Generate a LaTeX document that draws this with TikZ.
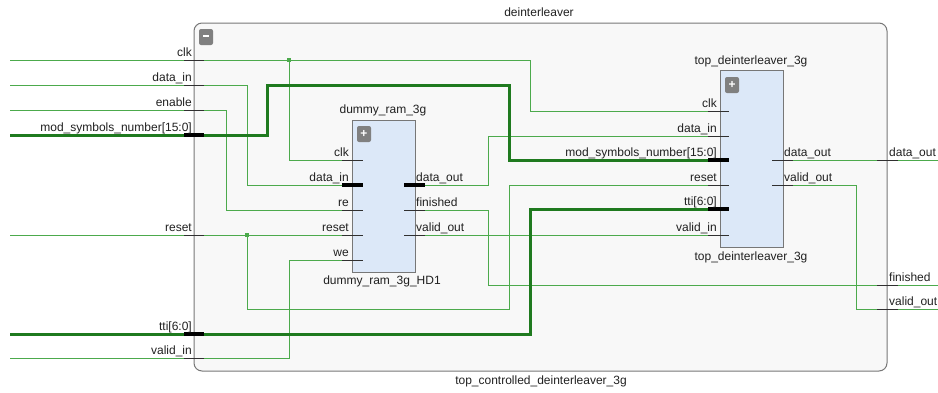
\documentclass[tikz,border=0pt]{standalone}
\usepackage{fontspec}
\setmainfont{Liberation Sans}
\definecolor{wgreen}{HTML}{4CAA4C}
\definecolor{bgreen}{HTML}{1F7A1F}
\definecolor{pinc}{HTML}{303030}
\definecolor{boxc}{HTML}{777777}
\definecolor{boxfill}{HTML}{F8F8F8}
\definecolor{blockblue}{HTML}{DCE8F8}
\definecolor{btngray}{HTML}{808080}
\definecolor{txt}{HTML}{202020}
\begin{document}
\begin{tikzpicture}[x=1pt,y=-1pt,
  wire/.style={draw=wgreen,line width=1pt},
  bus/.style={draw=bgreen,line width=3pt},
  pinstub/.style={draw=pinc,line width=1pt},
  buspin/.style={draw=black,line width=3.5pt},
  lbl/.style={font=\fontsize{12}{14}\selectfont,inner sep=0pt,text=txt},
  lblL/.style={lbl,anchor=base east},
  lblR/.style={lbl,anchor=base west},
  lblC/.style={lbl,anchor=base},
  outerbox/.style={draw=boxc,fill=boxfill,line width=1pt,rounded corners=8pt,minimum width=693pt,minimum height=348pt,inner sep=0pt},
  blk/.style={draw=boxc,fill=blockblue,line width=1pt,minimum width=63pt,inner sep=0pt},
  btn/.style={fill=btngray,rounded corners=2pt,minimum width=14pt,minimum height=16pt,inner sep=0pt,text=white,font=\bfseries\fontsize{12}{12}\selectfont},
  jdot/.style={fill=wgreen,minimum size=4pt,inner sep=0pt}
]
\useasboundingbox (0,0) rectangle (938,392);

% outer hierarchical box
\node[outerbox] (outer) at (540.5,197) {};
\node[btn] (minus) at (206,37) {\rule[0.3ex]{6pt}{1.6pt}};
\node[lblC] (tOuter) at (539,16) {deinterleaver};
\node[lblC] (bOuter) at (541,384) {top\_controlled\_deinterleaver\_3g};

% sub blocks
\node[blk,minimum height=152pt] (ram) at (383.5,196) {};
\node[btn] (ramplus) at (364,134) {+};
\node[lblC] (ramT) at (383,113) {dummy\_ram\_3g};
\node[lblC] (ramB) at (382,284) {dummy\_ram\_3g\_HD1};

\node[blk,minimum height=177pt] (td) at (751.5,158.5) {};
\node[btn] (tdplus) at (732,85) {+};
\node[lblC] (tdT) at (751,64) {top\_deinterleaver\_3g};
\node[lblC] (tdB) at (751,260) {top\_deinterleaver\_3g};

% pin coordinates (outer end of each stub)
\coordinate (ram-clk) at (342,160);
\coordinate (ram-din) at (342,185);
\coordinate (ram-re)  at (342,210);
\coordinate (ram-rst) at (342,235);
\coordinate (ram-we)  at (342,260);
\coordinate (ram-dout) at (425,185);
\coordinate (ram-fin)  at (425,210);
\coordinate (ram-vout) at (425,235);
\coordinate (td-clk) at (708,111);
\coordinate (td-din) at (708,136);
\coordinate (td-mod) at (708,160);
\coordinate (td-rst) at (708,185);
\coordinate (td-tti) at (708,209);
\coordinate (td-vin) at (708,235);
\coordinate (td-dout) at (793,160);
\coordinate (td-vout) at (793,185);
\coordinate (out-dout) at (877,160);
\coordinate (out-fin)  at (877,285);
\coordinate (out-vout) at (877,309);
\coordinate (o-dout) at (898,160);
\coordinate (o-fin)  at (898,285);
\coordinate (o-vout) at (898,309);
% free ends
\coordinate (x-clk) at (10,60);
\coordinate (x-din) at (10,85);
\coordinate (x-en)  at (10,110);
\coordinate (x-mod) at (10,135);
\coordinate (x-rst) at (10,235);
\coordinate (x-tti) at (10,334);
\coordinate (x-vin) at (10,358);
\coordinate (e-dout) at (938,160);
\coordinate (e-fin)  at (938,285);
\coordinate (e-vout) at (938,309);

% wires
\draw[wire] (x-clk) -- (530,60) |- (td-clk);
\draw[wire] (289,60) |- (ram-clk);
\draw[wire] (x-din) -- (247,85) |- (ram-din);
\draw[wire] (x-en) -- (226,110) |- (ram-re);
\draw[wire] (x-rst) -- (ram-rst);
\draw[wire] (247,235) -- (247,309) -- (509,309) |- (td-rst);
\draw[wire] (x-vin) -- (289,358) |- (ram-we);
\draw[wire] (ram-dout) -- (488,185) |- (td-din);
\draw[wire] (ram-fin) -- (488,210) |- (out-fin);
\draw[wire] (ram-vout) -- (td-vin);
\draw[wire] (td-dout) -- (out-dout);
\draw[wire] (td-vout) -- (856,185) |- (out-vout);
\draw[wire] (o-dout) -- (e-dout);
\draw[wire] (o-fin) -- (e-fin);
\draw[wire] (o-vout) -- (e-vout);
\draw[bus] (x-mod) -- (267,135) -- (267,85) -- (509,85) |- (td-mod);
\draw[bus] (x-tti) -- (530,334) |- (td-tti);
\node[jdot] (j1) at (289,60) {};
\node[jdot] (j2) at (247,235) {};

% outer port stubs
\foreach \y in {60,85,110,235,358} \draw[pinstub] (184,\y) -- (204,\y);
\foreach \y in {135,334} \draw[buspin] (184,\y) -- (204,\y);
\foreach \y in {160,285,309} \draw[pinstub] (877,\y) -- (898,\y);
% ram stubs
\foreach \y in {160,210,235,260} \draw[pinstub] (342,\y) -- (363,\y);
\draw[buspin] (342,185) -- (363,185);
\draw[buspin] (404,185) -- (425,185);
\foreach \y in {210,235} \draw[pinstub] (404,\y) -- (425,\y);
% td stubs
\foreach \y in {111,136,185,235} \draw[pinstub] (708,\y) -- (729,\y);
\foreach \y in {160,209} \draw[buspin] (708,\y) -- (729,\y);
\foreach \y in {160,185} \draw[pinstub] (772,\y) -- (793,\y);

% outer port labels
\node[lblL] at (192,56) {clk};
\node[lblL] at (192,81) {data\_in};
\node[lblL] at (192,106) {enable};
\node[lblL] at (192,131) {mod\_symbols\_number[15:0]};
\node[lblL] at (192,231) {reset};
\node[lblL] at (192,330) {tti[6:0]};
\node[lblL] at (192,354) {valid\_in};
\node[lblR] at (889,156) {data\_out};
\node[lblR] at (889,281) {finished};
\node[lblR] at (889,305) {valid\_out};

% ram labels
\node[lblL] at (349,156) {clk};
\node[lblL] at (349,181) {data\_in};
\node[lblL] at (349,206) {re};
\node[lblL] at (349,231) {reset};
\node[lblL] at (349,256) {we};
\node[lblR] at (416,181) {data\_out};
\node[lblR] at (416,206) {finished};
\node[lblR] at (416,231) {valid\_out};

% td labels
\node[lblL] at (717,107) {clk};
\node[lblL] at (717,132) {data\_in};
\node[lblL] at (717,156) {mod\_symbols\_number[15:0]};
\node[lblL] at (717,181) {reset};
\node[lblL] at (717,205) {tti[6:0]};
\node[lblL] at (717,231) {valid\_in};
\node[lblR] at (784,156) {data\_out};
\node[lblR] at (784,181) {valid\_out};
\end{tikzpicture}
\end{document}
